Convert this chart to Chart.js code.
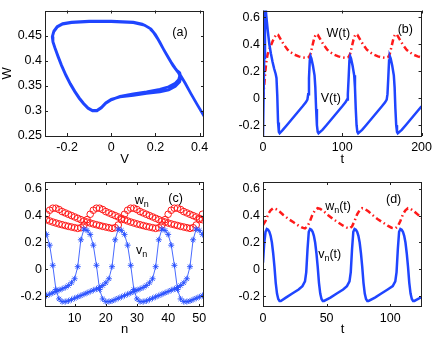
<!DOCTYPE html>
<html>
<head>
<meta charset="utf-8">
<script src="https://cdn.jsdelivr.net/npm/chart.js"></script>
<style>
  body { margin: 0; background: #fff; }
  #wrap { position: relative; width: 436px; height: 340px; }
  canvas { position: absolute; }
</style>
</head>
<body>
<div id="wrap">
  <canvas id="pa" width="218" height="170" style="left:0;top:0"></canvas>
  <canvas id="pb" width="218" height="170" style="left:218px;top:0"></canvas>
  <canvas id="pc" width="218" height="170" style="left:0;top:170px"></canvas>
  <canvas id="pd" width="218" height="170" style="left:218px;top:170px"></canvas>
</div>
<script>
// (a) phase portrait W against V
var phaseV = [0.44, 0.42, 0.39, 0.36, 0.335, 0.315,
  0.30, 0.28, 0.26, 0.24, 0.22, 0.2, 0.18, 0.15, 0.1, 0.0, -0.1, -0.18, -0.22, -0.245, -0.26, -0.267, -0.264,
  -0.255, -0.24, -0.225, -0.205, -0.185, -0.165, -0.145, -0.125, -0.105, -0.085, -0.065, -0.045, -0.025, 0.0,
  0.04, 0.1, 0.16, 0.22, 0.26, 0.29, 0.305, 0.31, 0.305,
  0.29, 0.27, 0.25, 0.23, 0.21, 0.19, 0.17, 0.14, 0.1, 0.0, -0.1, -0.18, -0.22, -0.245, -0.26, -0.267, -0.264,
  -0.255, -0.24, -0.225, -0.205, -0.185, -0.165, -0.145, -0.125, -0.105, -0.085, -0.065, -0.045, -0.025, 0.0,
  0.04, 0.1, 0.16, 0.22, 0.26, 0.29, 0.31, 0.315, 0.31, 0.3];
var phaseW = [0.275, 0.29, 0.312, 0.335, 0.355, 0.37,
  0.378, 0.39, 0.405, 0.42, 0.437, 0.452, 0.463, 0.471, 0.476, 0.478, 0.478, 0.476, 0.473, 0.467, 0.458, 0.447, 0.437,
  0.425, 0.407, 0.39, 0.37, 0.353, 0.338, 0.325, 0.314, 0.305, 0.3, 0.3, 0.306, 0.315, 0.322,
  0.329, 0.334, 0.338, 0.343, 0.348, 0.355, 0.362, 0.37, 0.376,
  0.385, 0.398, 0.413, 0.428, 0.444, 0.457, 0.466, 0.473, 0.477, 0.479, 0.479, 0.477, 0.474, 0.468, 0.459, 0.448, 0.438,
  0.426, 0.408, 0.391, 0.371, 0.354, 0.339, 0.326, 0.315, 0.306, 0.301, 0.301, 0.307, 0.316, 0.323,
  0.328, 0.331, 0.335, 0.338, 0.342, 0.349, 0.358, 0.368, 0.376, 0.38];

// (b) V(t), W(t)
var bVt = [0, 1.5, 2.5, 4, 6, 8, 10, 12, 14, 16, 17, 18, 19, 20, 21,
  25, 30, 35, 40, 45, 50, 54, 56, 57, 58, 59, 60, 61, 63, 65, 66, 67, 68, 69, 70,
  75, 80, 85, 90, 95, 100, 104, 106, 107, 108, 109, 110, 111, 113, 115, 116, 117, 118, 119, 120,
  125, 130, 135, 140, 145, 150, 154, 156, 157, 158, 159, 160, 161, 163, 165, 166, 167, 168, 169, 170,
  175, 180, 185, 190, 195, 200];
var bV = [-0.28, 0.3, 0.75, 0.62, 0.5, 0.4, 0.33, 0.27, 0.22, 0.18, 0.15, 0.02, -0.18, -0.25, -0.26,
  -0.235, -0.2, -0.165, -0.13, -0.095, -0.06, -0.03, -0.01, 0.03, 0.15, 0.28, 0.31, 0.295, 0.24, 0.17, 0.08, -0.08, -0.2, -0.25, -0.26,
  -0.235, -0.2, -0.165, -0.13, -0.095, -0.06, -0.03, -0.01, 0.03, 0.15, 0.28, 0.31, 0.295, 0.24, 0.17, 0.08, -0.08, -0.2, -0.25, -0.26,
  -0.235, -0.2, -0.165, -0.13, -0.095, -0.06, -0.03, -0.01, 0.03, 0.15, 0.28, 0.31, 0.295, 0.24, 0.17, 0.08, -0.08, -0.2, -0.25, -0.26,
  -0.235, -0.2, -0.165, -0.13, -0.095, -0.06];
var bWt = [0, 1, 2, 3, 4, 5, 6, 8, 10, 12, 14, 16, 17,
  19, 22, 26, 31, 35, 40, 45, 50, 55, 58, 60, 62, 64, 66, 67,
  69, 72, 76, 81, 85, 90, 95, 100, 105, 108, 110, 112, 114, 116, 117,
  119, 122, 126, 131, 135, 140, 145, 150, 155, 158, 160, 162, 164, 166, 167,
  169, 172, 176, 181, 185, 190, 195, 200];
var bW = [0.0, 0.06, 0.13, 0.2, 0.26, 0.3, 0.33, 0.36, 0.39, 0.42, 0.445, 0.465, 0.475,
  0.47, 0.44, 0.4, 0.36, 0.34, 0.322, 0.31, 0.302, 0.298, 0.305, 0.33, 0.38, 0.43, 0.465, 0.475,
  0.47, 0.44, 0.4, 0.36, 0.34, 0.322, 0.31, 0.302, 0.298, 0.305, 0.33, 0.38, 0.43, 0.465, 0.475,
  0.47, 0.44, 0.4, 0.36, 0.34, 0.322, 0.31, 0.302, 0.298, 0.305, 0.33, 0.38, 0.43, 0.465, 0.475,
  0.47, 0.44, 0.4, 0.36, 0.34, 0.322, 0.31, 0.302];

// (c) maps v_n, w_n (two interleaved sequences)
var nIdx = [1, 2, 3, 4, 5, 6, 7, 8, 9, 10, 11, 12, 13, 14, 15, 16, 17, 18, 19, 20, 21, 22, 23, 24, 25,
  26, 27, 28, 29, 30, 31, 32, 33, 34, 35, 36, 37, 38, 39, 40, 41, 42, 43, 44, 45, 46, 47, 48, 49, 50, 51];
var vA = [0.26, 0.18, 0.03, -0.15, -0.22, -0.24, -0.24, -0.235, -0.225, -0.215, -0.205, -0.195, -0.185, -0.175, -0.165,
  -0.155, -0.145, -0.135, -0.12, -0.10, -0.07, 0.02, 0.22, 0.30, 0.29, 0.26, 0.18, 0.03, -0.15, -0.22,
  -0.24, -0.24, -0.235, -0.225, -0.215, -0.205, -0.195, -0.185, -0.175, -0.165, -0.155, -0.145, -0.135, -0.12, -0.10,
  -0.07, 0.02, 0.22, 0.30, 0.29, 0.26];
var vB = [-0.195, -0.185, -0.175, -0.165, -0.155, -0.145, -0.135, -0.12, -0.10, -0.07, 0.02, 0.22, 0.30, 0.29, 0.26,
  0.18, 0.03, -0.15, -0.22, -0.24, -0.24, -0.235, -0.225, -0.215, -0.205, -0.195, -0.185, -0.175, -0.165, -0.155,
  -0.145, -0.135, -0.12, -0.10, -0.07, 0.02, 0.22, 0.30, 0.29, 0.26, 0.18, 0.03, -0.15, -0.22, -0.24,
  -0.24, -0.235, -0.225, -0.215, -0.205, -0.195];
var wA = [0.41, 0.44, 0.455, 0.455, 0.445, 0.43, 0.42, 0.41, 0.40, 0.39, 0.38, 0.37, 0.36, 0.352, 0.345,
  0.338, 0.332, 0.326, 0.32, 0.315, 0.31, 0.305, 0.31, 0.33, 0.37, 0.41, 0.44, 0.455, 0.455, 0.445,
  0.43, 0.42, 0.41, 0.40, 0.39, 0.38, 0.37, 0.36, 0.352, 0.345, 0.338, 0.332, 0.326, 0.32, 0.315,
  0.31, 0.305, 0.31, 0.33, 0.37, 0.41];
var wB = [0.37, 0.36, 0.352, 0.345, 0.338, 0.332, 0.326, 0.32, 0.315, 0.31, 0.305, 0.31, 0.33, 0.37, 0.41,
  0.44, 0.455, 0.455, 0.445, 0.43, 0.42, 0.41, 0.40, 0.39, 0.38, 0.37, 0.36, 0.352, 0.345, 0.338,
  0.332, 0.326, 0.32, 0.315, 0.31, 0.305, 0.31, 0.33, 0.37, 0.41, 0.44, 0.455, 0.455, 0.445, 0.43,
  0.42, 0.41, 0.40, 0.39, 0.38, 0.37];

// (d) v_n(t), w_n(t)
var dVt = [0, 1, 2, 3, 4, 5, 6, 7, 8, 9, 10, 11, 12, 13, 14, 18, 23, 28, 31, 33, 34,
  35, 36, 37, 38, 39, 40, 41, 42, 43, 44, 45, 46, 47, 48, 53, 58, 63, 66, 68, 69,
  70, 71, 72, 73, 74, 75, 76, 77, 78, 79, 80, 81, 82, 83, 88, 93, 98, 102, 104, 105,
  106, 107, 108, 109, 110, 111, 112, 113, 114, 115, 116, 117, 118, 119, 122, 125];
var dV = [0.05, 0.2, 0.28, 0.3, 0.295, 0.28, 0.25, 0.2, 0.12, 0.02, -0.1, -0.18, -0.22, -0.235, -0.235, -0.21, -0.18, -0.15, -0.125, -0.09, -0.02,
  0.15, 0.28, 0.3, 0.295, 0.28, 0.25, 0.2, 0.12, 0.02, -0.1, -0.18, -0.22, -0.235, -0.235, -0.21, -0.18, -0.15, -0.125, -0.09, -0.02,
  0.15, 0.28, 0.3, 0.295, 0.28, 0.25, 0.2, 0.12, 0.02, -0.1, -0.18, -0.22, -0.235, -0.235, -0.21, -0.18, -0.15, -0.125, -0.09, -0.02,
  0.15, 0.28, 0.3, 0.295, 0.28, 0.25, 0.2, 0.12, 0.02, -0.1, -0.18, -0.22, -0.235, -0.235, -0.22, -0.205];
var dWt = [0, 2, 4, 6, 8, 10, 13, 16, 20, 24, 28, 31, 33,
  35, 37, 39, 41, 43, 45, 48, 51, 55, 59, 63, 66, 68,
  70, 72, 74, 76, 78, 80, 83, 86, 90, 94, 98, 101, 104,
  106, 108, 110, 112, 114, 116, 119, 122, 125];
var dW = [0.33, 0.36, 0.41, 0.44, 0.455, 0.45, 0.43, 0.405, 0.375, 0.35, 0.325, 0.31, 0.305,
  0.32, 0.36, 0.41, 0.44, 0.455, 0.45, 0.43, 0.405, 0.375, 0.35, 0.325, 0.31, 0.305,
  0.32, 0.36, 0.41, 0.44, 0.455, 0.45, 0.43, 0.405, 0.375, 0.35, 0.325, 0.31, 0.305,
  0.32, 0.36, 0.41, 0.44, 0.455, 0.45, 0.43, 0.405, 0.38];

var ticksA_x = [-0.2, 0, 0.2, 0.4], ticksA_y = [0.25, 0.3, 0.35, 0.4, 0.45];
var ticksB_x = [0, 100, 200], ticksC_x = [10, 20, 30, 40, 50], ticksD_x = [0, 50, 100];
var ticksV = [-0.2, 0, 0.2, 0.4, 0.6];

var BLUE = '#1f45ff', RED = '#ff1a1a';
var FAM = '"Liberation Sans", Arial, Helvetica, sans-serif';

function pts(xs, ys) {
  return xs.map(function(v, i) { return { x: v, y: ys[i] }; });
}

// matlab-like box, inward ticks and in-plot text
var boxPlugin = {
  id: 'box',
  afterDatasetsDraw: function(chart, args, opts) {
    var ctx = chart.ctx, a = chart.chartArea, sx = chart.scales.x, sy = chart.scales.y;
    ctx.save();
    ctx.strokeStyle = '#222';
    ctx.lineWidth = 1;
    ctx.strokeRect(Math.round(a.left) + 0.5, Math.round(a.top) + 0.5,
      Math.round(a.right - a.left) - 1, Math.round(a.bottom - a.top) - 1);
    ctx.beginPath();
    sx.ticks.forEach(function(t) {
      var p = Math.round(sx.getPixelForValue(t.value)) + 0.5;
      ctx.moveTo(p, a.bottom); ctx.lineTo(p, a.bottom - 3);
      ctx.moveTo(p, a.top); ctx.lineTo(p, a.top + 3);
    });
    sy.ticks.forEach(function(t) {
      var p = Math.round(sy.getPixelForValue(t.value)) + 0.5;
      ctx.moveTo(a.left, p); ctx.lineTo(a.left + 3, p);
      ctx.moveTo(a.right, p); ctx.lineTo(a.right - 3, p);
    });
    ctx.stroke();

    ctx.fillStyle = '#000';
    ctx.textBaseline = 'middle';
    ctx.textAlign = 'left';
    (opts.labels || []).forEach(function(l) {
      var big = '12.5px ' + FAM, small = '9px ' + FAM;
      ctx.font = big; var w1 = ctx.measureText(l.text).width;
      ctx.font = small; var w2 = l.sub ? ctx.measureText(l.sub).width : 0;
      ctx.font = big; var w3 = l.tail ? ctx.measureText(l.tail).width : 0;
      var px = sx.getPixelForValue(l.x) - (w1 + w2 + w3) / 2, py = sy.getPixelForValue(l.y);
      ctx.fillText(l.text, px, py);
      if (l.sub) { ctx.font = small; ctx.fillText(l.sub, px + w1, py + 4); }
      if (l.tail) { ctx.font = big; ctx.fillText(l.tail, px + w1 + w2, py); }
    });
    ctx.restore();
  }
};

function axis(min, max, tickValues, title, isX, thick) {
  return {
    type: 'linear', min: min, max: max,
    grid: { display: false, drawTicks: false },
    border: { display: false },
    afterBuildTicks: function(s) { s.ticks = tickValues.map(function(v) { return { value: v }; }); },
    afterFit: function(s) { if (isX) s.height = thick; else s.width = thick; },
    ticks: { font: { family: FAM, size: 12.5 }, color: '#000', padding: isX ? 4 : 3,
      autoSkip: false, maxRotation: 0, callback: function(v) { return String(v); } },
    title: { display: !!title, text: title, color: '#000', font: { family: FAM, size: 13 },
      padding: isX ? { top: 0, bottom: 3 } : { top: 0, bottom: 0 } }
  };
}

function makeChart(id, datasets, xs, ys, top, labels) {
  return new Chart(document.getElementById(id), {
    type: 'scatter',
    data: { datasets: datasets },
    options: {
      responsive: false, animation: false, events: [],
      layout: { padding: { top: top, right: 14, left: 0, bottom: 0 } },
      plugins: { legend: { display: false }, tooltip: { enabled: false }, box: { labels: labels } },
      scales: { x: xs, y: ys }
    },
    plugins: [boxPlugin]
  });
}

function line(data, color, width, dash) {
  return { data: data, showLine: true, pointRadius: 0, borderColor: color, borderWidth: width,
    borderDash: dash || [], tension: 0, fill: false };
}

makeChart('pa',
  [line(pts(phaseV, phaseW), BLUE, 2.8)],
  axis(-0.3, 0.42, ticksA_x, 'V', true, 34),
  axis(0.25, 0.5, ticksA_y, 'W', false, 45),
  10,
  [{ x: 0.311, y: 0.456, text: '(a)' }]);

makeChart('pb',
  [line(pts(bVt, bV), BLUE, 2.5), line(pts(bWt, bW), RED, 2.5, [6, 3, 1.5, 3])],
  axis(0, 200, ticksB_x, 't', true, 34),
  axis(-0.28, 0.65, ticksV, '', false, 45),
  10,
  [{ x: 179.5, y: 0.51, text: '(b)' }, { x: 95, y: 0.48, text: 'W(t)' }, { x: 85.5, y: 0.0, text: 'V(t)' }]);

makeChart('pc',
  [
    { data: pts(nIdx, vA), showLine: true, borderColor: 'rgba(40,80,255,0.85)', borderWidth: 1, tension: 0,
      pointStyle: 'star', pointRadius: 3, pointBorderColor: 'rgba(40,80,255,0.9)', pointBorderWidth: 1 },
    { data: pts(nIdx, vB), showLine: true, borderColor: 'rgba(40,80,255,0.85)', borderWidth: 1, tension: 0,
      pointStyle: 'star', pointRadius: 3, pointBorderColor: 'rgba(40,80,255,0.9)', pointBorderWidth: 1 },
    { data: pts(nIdx, wA), showLine: false, pointStyle: 'circle', pointRadius: 3.3,
      pointBackgroundColor: 'rgba(0,0,0,0)', pointBorderColor: RED, pointBorderWidth: 1 },
    { data: pts(nIdx, wB), showLine: false, pointStyle: 'circle', pointRadius: 3.3,
      pointBackgroundColor: 'rgba(0,0,0,0)', pointBorderColor: RED, pointBorderWidth: 1 }
  ],
  axis(0.5, 51.5, ticksC_x, 'n', true, 33),
  axis(-0.28, 0.65, ticksV, '', false, 45),
  12,
  [{ x: 42.4, y: 0.53, text: '(c)' }, { x: 31.5, y: 0.51, text: 'w', sub: 'n' }, { x: 31.5, y: 0.14, text: 'v', sub: 'n' }]);

makeChart('pd',
  [line(pts(dVt, dV), BLUE, 2.5), line(pts(dWt, dW), RED, 2.5, [6, 3, 1.5, 3])],
  axis(0, 125, ticksD_x, 't', true, 33),
  axis(-0.28, 0.65, ticksV, '', false, 45),
  12,
  [{ x: 102.7, y: 0.516, text: '(d)' }, { x: 59, y: 0.47, text: 'w', sub: 'n', tail: '(t)' },
   { x: 52.4, y: 0.107, text: 'v', sub: 'n', tail: '(t)' }]);
</script>
</body>
</html>
